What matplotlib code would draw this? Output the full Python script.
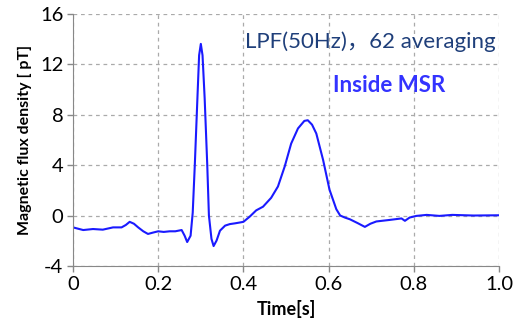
import matplotlib
matplotlib.use("Agg")
import matplotlib.pyplot as plt

t = [0.0, 0.024, 0.047, 0.07, 0.094, 0.114, 0.124, 0.133, 0.143, 0.153, 0.165, 0.176,
     0.188, 0.2, 0.213, 0.227, 0.24, 0.255, 0.262, 0.268, 0.276, 0.281, 0.286, 0.292,
     0.296, 0.3, 0.304, 0.309, 0.315, 0.319, 0.325, 0.33, 0.337, 0.345, 0.357, 0.368,
     0.38, 0.392, 0.4, 0.415, 0.43, 0.446, 0.465, 0.481, 0.497, 0.512, 0.528, 0.543,
     0.551, 0.561, 0.571, 0.587, 0.602, 0.618, 0.627, 0.638, 0.65, 0.668, 0.685, 0.698,
     0.712, 0.743, 0.771, 0.779, 0.79, 0.806, 0.83, 0.86, 0.89, 0.94, 1.0]
b = [-0.94, -1.15, -1.07, -1.12, -0.94, -0.94, -0.75, -0.5, -0.65, -0.94, -1.25, -1.46,
     -1.35, -1.25, -1.3, -1.25, -1.25, -1.15, -1.6, -2.1, -1.6, 0.23, 4.1, 9.3,
     12.7, 13.6, 12.7, 9.3, 4.1, 0.0, -1.85, -2.42, -1.98, -1.2, -0.8, -0.68,
     -0.62, -0.55, -0.5, -0.08, 0.41, 0.7, 1.4, 2.3, 3.9, 5.7, 6.9, 7.5,
     7.55, 7.2, 6.5, 4.4, 2.05, 0.5, 0.0, -0.16, -0.3, -0.6, -0.9, -0.65,
     -0.47, -0.35, -0.23, -0.42, -0.16, -0.03, 0.05, -0.03, 0.05, 0.0, 0.02]

xticks = [0, 0.2, 0.4, 0.6, 0.8, 1.0]
xticklabels = ["0", "0.2", "0.4", "0.6", "0.8", "1.0"]
yticks = [-4, 0, 4, 8, 12, 16]
yticklabels = ["-4", "0", "4", "8", "12", "16"]

plt.rcParams['font.family'] = ['Lato', 'Noto Sans CJK JP', 'DejaVu Sans']

fig = plt.figure(figsize=(5.14, 3.24), dpi=100)
ax = fig.add_axes([0.142, 0.179, 0.829, 0.779])
ax.plot(t, b, color='#1a1aff', lw=1.5)
ax.set_xlim(0, 1.0)
ax.set_ylim(-4, 16)
ax.set_xticks(xticks)
ax.set_xticklabels(xticklabels)
ax.set_yticks(yticks)
ax.set_yticklabels(yticklabels)
ax.tick_params(labelsize=14.5, color='#888888', length=4, width=1, pad=3)
ax.grid(True, linestyle=(0, (3, 3)), color='#aaaaaa', lw=0.9)
for s in ['top', 'right']:
    ax.spines[s].set_visible(False)
for s in ['left', 'bottom']:
    ax.spines[s].set_color('#888888')
ax.set_axisbelow(True)
ax.set_xlabel("Time[s]", fontsize=13, fontweight='bold', labelpad=5)
ax.set_ylabel("Magnetic flux density [ pT]", fontsize=11.5, fontweight='bold', labelpad=6)
ax.text(0.993, 0.887, "LPF(50Hz)，62 averaging", transform=ax.transAxes, ha='right', va='center',
        fontsize=16, color='#1f3f7a')
ax.text(0.743, 0.717, "Inside MSR", transform=ax.transAxes, ha='center', va='center',
        fontsize=16, fontweight='bold', color='#3333ff')
fig.savefig("out.png", dpi=100)
